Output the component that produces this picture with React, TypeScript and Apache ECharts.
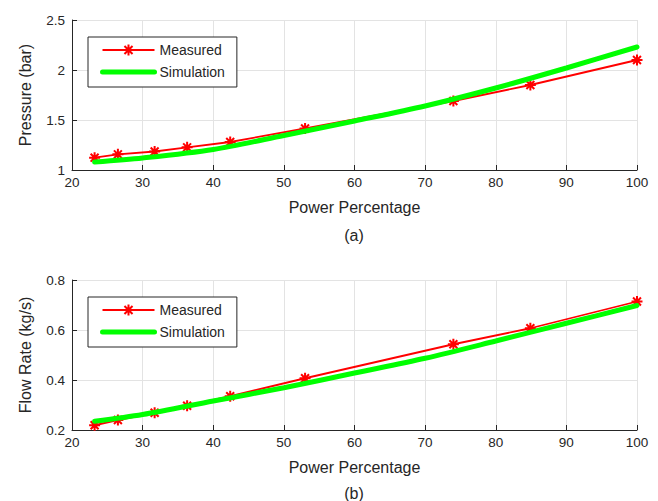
import React, { useEffect, useRef } from "react";
import * as echarts from "echarts";

const powerMeasured = [23.2, 26.5, 31.7, 36.3, 42.4, 53, 74, 84.9, 100];
const pressureMeasured = [1.123, 1.157, 1.185, 1.227, 1.28, 1.415, 1.69, 1.85, 2.1];
const flowMeasured = [0.219, 0.24, 0.269, 0.297, 0.335, 0.407, 0.543, 0.607, 0.714];

const powerSim = [23.2, 30, 40, 50, 60, 70, 80, 90, 100];
const pressureSim = [1.08, 1.12, 1.205, 1.345, 1.49, 1.64, 1.82, 2.02, 2.23];
const flowSim = [0.235, 0.262, 0.316, 0.369, 0.428, 0.487, 0.556, 0.627, 0.698];

const xTicks = { min: 20, max: 100, interval: 10 };
const pressureTicks = { min: 1, max: 2.5, interval: 0.5 };
const flowTicks = { min: 0.2, max: 0.8, interval: 0.2 };

const FONT = "Liberation Sans, Arial, Helvetica, sans-serif";
const DARK = "#262626";
const GRID = "#e3e3e3";
const STAR =
  "path://M0,-5L0,5M-5,0L5,0M-3.6,-3.6L3.6,3.6M-3.6,3.6L3.6,-3.6";

const pairs = (xs: number[], ys: number[]) => xs.map((x, i) => [x, ys[i]]);

function xAxisCfg(gridIndex: number) {
  return {
    type: "value",
    gridIndex,
    ...xTicks,
    name: "Power Percentage",
    nameLocation: "middle",
    nameGap: 29,
    nameTextStyle: { fontFamily: FONT, fontSize: 16, color: DARK },
    axisLine: { show: true, lineStyle: { color: DARK, width: 1 } },
    axisTick: { show: true, inside: true, length: 5, lineStyle: { color: DARK } },
    axisLabel: { fontFamily: FONT, fontSize: 13.5, color: DARK, margin: 5 },
    splitLine: { show: true, lineStyle: { color: GRID, width: 1 } },
  };
}

function yAxisCfg(gridIndex: number, name: string, ticks: any) {
  return {
    type: "value",
    gridIndex,
    ...ticks,
    name,
    nameLocation: "middle",
    nameGap: 39,
    nameTextStyle: { fontFamily: FONT, fontSize: 16, color: DARK },
    axisLine: { show: true, lineStyle: { color: DARK, width: 1 } },
    axisTick: { show: true, inside: true, length: 5, lineStyle: { color: DARK } },
    axisLabel: { fontFamily: FONT, fontSize: 13.5, color: DARK, margin: 7 },
    splitLine: { show: true, lineStyle: { color: GRID, width: 1 } },
  };
}

function measuredSeries(idx: number, data: number[][]) {
  return {
    type: "line",
    name: "Measured",
    xAxisIndex: idx,
    yAxisIndex: idx,
    data,
    symbol: STAR,
    symbolSize: 11,
    lineStyle: { color: "#ff0000", width: 1.8 },
    itemStyle: { color: "#ff0000", borderColor: "#ff0000", borderWidth: 2 },
    z: 2,
  };
}

function simSeries(idx: number, data: number[][]) {
  return {
    type: "line",
    name: "Simulation",
    xAxisIndex: idx,
    yAxisIndex: idx,
    data,
    smooth: 0.3,
    symbol: "none",
    showSymbol: false,
    lineStyle: { color: "#00ff00", width: 5, cap: "round" },
    itemStyle: { color: "#00ff00" },
    z: 3,
  };
}

function legendCfg(top: number) {
  return {
    orient: "vertical",
    left: 88,
    top,
    padding: [6, 12, 8, 12],
    itemGap: 8,
    itemWidth: 52,
    itemHeight: 14,
    borderColor: DARK,
    borderWidth: 1,
    borderRadius: 0,
    backgroundColor: "#ffffff",
    textStyle: { fontFamily: FONT, fontSize: 14, color: DARK },
    data: [
      { name: "Measured", lineStyle: { width: 2 } },
      {
        name: "Simulation",
        lineStyle: { width: 5 },
        itemStyle: { color: "rgba(0,0,0,0)", borderWidth: 0, opacity: 0 },
      },
    ],
  };
}

export default function App() {
  const ref = useRef<HTMLDivElement>(null);
  useEffect(() => {
    if (!ref.current) return;
    const chart = echarts.init(ref.current, undefined, { renderer: "svg" });
    chart.setOption({
      animation: false,
      backgroundColor: "#ffffff",
      grid: [
        { left: 72, top: 20, width: 565, height: 150 },
        { left: 72, top: 280, width: 565, height: 150 },
      ],
      xAxis: [xAxisCfg(0), xAxisCfg(1)],
      yAxis: [
        yAxisCfg(0, "Pressure (bar)", pressureTicks),
        yAxisCfg(1, "Flow Rate (kg/s)", flowTicks),
      ],
      legend: [legendCfg(37), legendCfg(297)],
      series: [
        measuredSeries(0, pairs(powerMeasured, pressureMeasured)),
        simSeries(0, pairs(powerSim, pressureSim)),
        measuredSeries(1, pairs(powerMeasured, flowMeasured)),
        simSeries(1, pairs(powerSim, flowSim)),
      ],
      graphic: [
        {
          type: "text",
          x: 354,
          y: 235,
          style: {
            text: "(a)",
            fontFamily: FONT,
            fontSize: 16,
            fill: DARK,
            textAlign: "center",
            textVerticalAlign: "middle",
          },
        },
        {
          type: "text",
          x: 354,
          y: 493,
          style: {
            text: "(b)",
            fontFamily: FONT,
            fontSize: 16,
            fill: DARK,
            textAlign: "center",
            textVerticalAlign: "middle",
          },
        },
      ],
    });
    return () => chart.dispose();
  }, []);
  return (
    <div
      ref={ref}
      style={{ position: "fixed", left: 0, top: 0, width: 658, height: 501, background: "#fff" }}
    />
  );
}
